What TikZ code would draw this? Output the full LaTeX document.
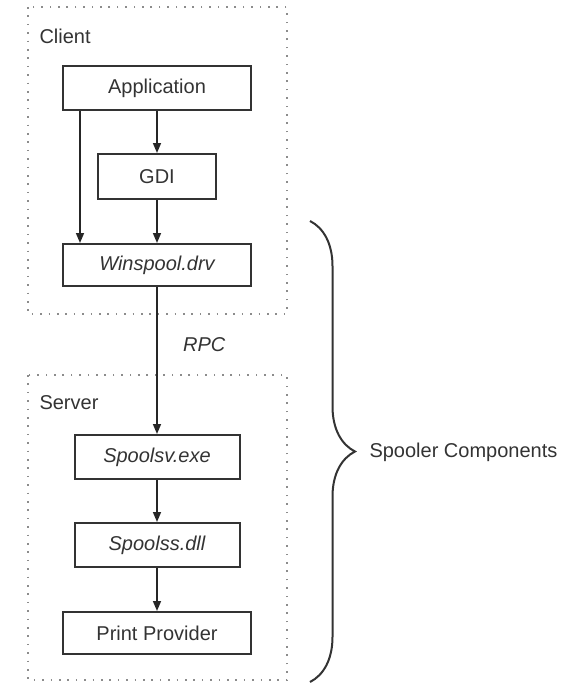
\documentclass[tikz,border=0pt]{standalone}
\usepackage{fontspec}
\setmainfont{Liberation Sans}
\usepackage{tikz}
\usetikzlibrary{arrows.meta,decorations.pathreplacing}
\tikzstyle{comp} = [draw=black!80, line width=2pt, inner sep=0pt, minimum height=44pt, text=black!80]
\tikzset{zone/.style={draw=black!45, line width=1.6pt, dash pattern=on 1.6pt off 6.8pt},
    link/.style={draw=black!85, line width=1.5pt, -{Triangle[length=10pt,width=8pt]}},
    label/.style={text=black!80, anchor=west}}

\begin{document}
\begin{tikzpicture}[x=1pt, y=-1pt, every node/.style={font=\fontsize{20}{24}\selectfont}]
    \useasboundingbox (0,0) rectangle (588,683);
    % Client side
    \draw[zone] (28,7) rectangle (287,314);
    \node[label] (client) at (36,36) {Client};
    \node[comp, minimum width=188pt] (app) at (157,88) {Application};
    \node[comp, minimum width=118pt, minimum height=45pt] (gdi) at (157,176.5) {GDI};
    \node[comp, minimum width=188pt, minimum height=42pt] (winspool) at (157,265) {\itshape Winspool.drv};
    \draw[link] (app) -- (gdi);
    \draw[link] (gdi) -- (winspool);
    \draw[link] ([xshift=-77pt]app.south) -- ([xshift=-77pt]winspool.north);
    %
    % Server side
    \draw[zone] (28,375) rectangle (287,680);
    \node[label] (server) at (36,403) {Server};
    \node[comp, minimum width=165pt] (spoolsv) at (157,457) {\itshape Spoolsv.exe};
    \node[comp, minimum width=165pt] (spoolss) at (157,545) {\itshape Spoolss.dll};
    \node[comp, minimum width=188pt, minimum height=42pt] (provider) at (157,633) {Print Provider};
    \draw[link] (winspool) -- (spoolsv) node[pos=0.39, label, xshift=22pt] (rpc) {\itshape RPC};
    \draw[link] (spoolsv) -- (spoolss);
    \draw[link] (spoolss) -- (provider);
    %
    % Brace
    \draw[draw=black!80, line width=2pt, decorate, decoration={brace, amplitude=45pt}]
        (310,221) -- (310,682) coordinate[midway] (mid);
    \node[label] (spooler) at (366,452) {Spooler Components};
\end{tikzpicture}
\end{document}
